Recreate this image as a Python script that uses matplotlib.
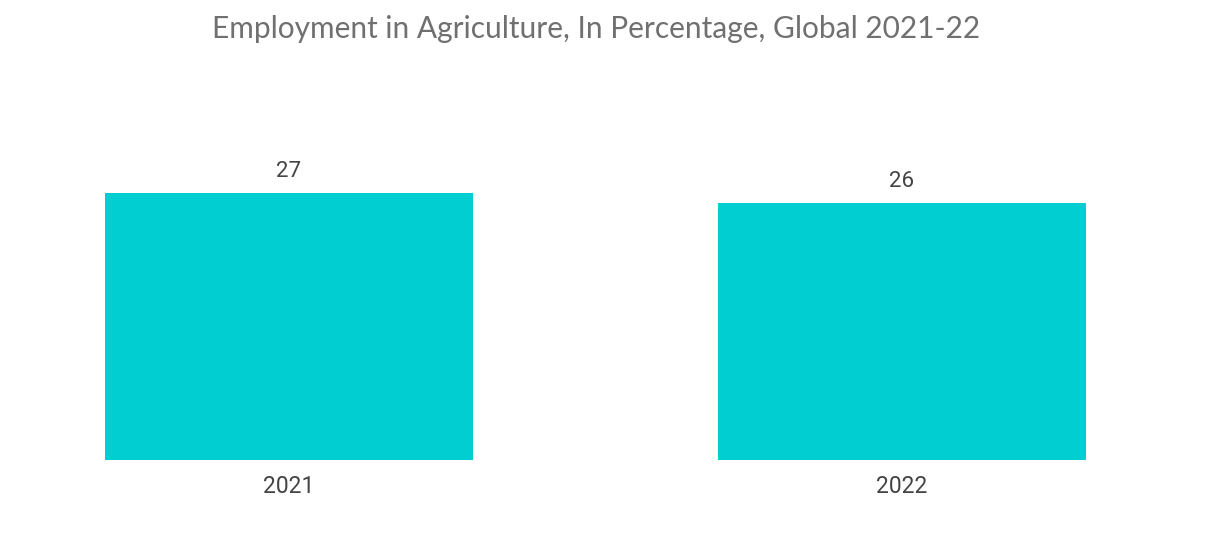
import matplotlib
matplotlib.use('Agg')
import matplotlib.pyplot as plt

# data
years = ['2021', '2022']
share = [27, 26]

bar_color = '#00CED1'
text_color = '#444444'

fig = plt.figure(figsize=(12.18, 5.47), dpi=100)
ax = fig.add_axes([105 / 1218, 87 / 547, 981 / 1218, 267 / 547])

x = list(range(len(years)))
bars = ax.bar(x, share, width=0.6, color=bar_color)
ax.set_xlim(-0.3, 1.3)
ax.set_ylim(0, 27)

# value labels above bars
for rect, v in zip(bars, share):
    ax.annotate(str(v), (rect.get_x() + rect.get_width() / 2, rect.get_height()),
                xytext=(0, 8), textcoords='offset points', ha='center', va='bottom',
                fontsize=16, color=text_color, family='Roboto', annotation_clip=False)

ax.set_xticks(x)
ax.set_xticklabels(years, fontsize=16.5, color=text_color, family='Roboto')
ax.tick_params(axis='x', length=0, pad=11)
ax.set_yticks([])
for s in ax.spines.values():
    s.set_visible(False)

fig.text(596 / 1218, 1 - 29 / 547, 'Employment in Agriculture, In Percentage, Global 2021-22',
         ha='center', va='center', fontsize=21.5, color='#707070', family='Lato')

fig.savefig('out.png', dpi=100)
